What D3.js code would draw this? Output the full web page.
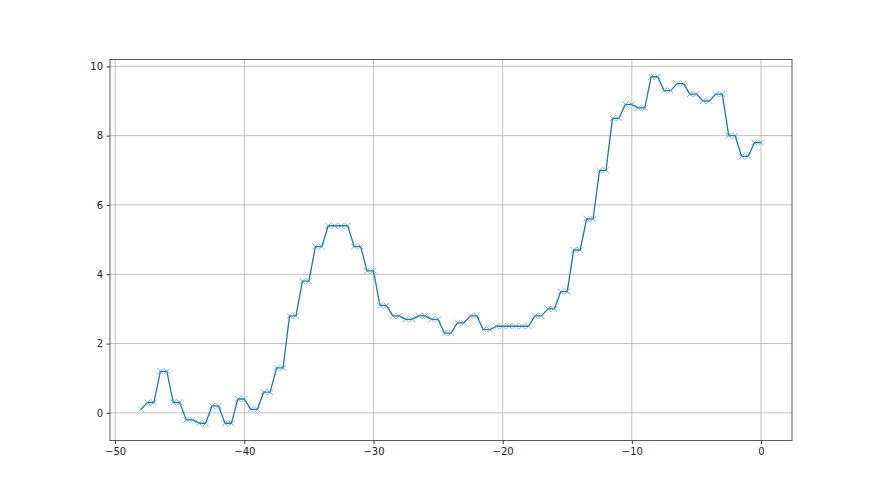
<!DOCTYPE html>
<html>
<head>
<meta charset="utf-8">
<script src="https://cdn.jsdelivr.net/npm/d3@7"></script>
<style>
  body { margin: 0; background: #fff; }
  svg text { font-family: "DejaVu Sans", sans-serif; font-size: 10px; fill: #000; }
</style>
</head>
<body>
<script>
const width = 880,
    height = 495;

// hours relative to now, each reading held for half an hour
const times = [-48,
  -47.5, -47, -46.5, -46, -45.5, -45, -44.5, -44, -43.5, -43, -42.5, -42,
  -41.5, -41, -40.5, -40, -39.5, -39, -38.5, -38, -37.5, -37, -36.5, -36,
  -35.5, -35, -34.5, -34, -33.5, -33, -32.5, -32, -31.5, -31, -30.5, -30,
  -29.5, -29, -28.5, -28, -27.5, -27, -26.5, -26, -25.5, -25, -24.5, -24,
  -23.5, -23, -22.5, -22, -21.5, -21, -20.5, -20, -19.5, -19, -18.5, -18,
  -17.5, -17, -16.5, -16, -15.5, -15, -14.5, -14, -13.5, -13, -12.5, -12,
  -11.5, -11, -10.5, -10, -9.5, -9, -8.5, -8, -7.5, -7, -6.5, -6,
  -5.5, -5, -4.5, -4, -3.5, -3, -2.5, -2, -1.5, -1, -0.5, 0];

const values = [0.1,
  0.3, 0.3, 1.2, 1.2, 0.3, 0.3, -0.2, -0.2, -0.3, -0.3, 0.2, 0.2,
  -0.3, -0.3, 0.4, 0.4, 0.1, 0.1, 0.6, 0.6, 1.3, 1.3, 2.8, 2.8,
  3.8, 3.8, 4.8, 4.8, 5.4, 5.4, 5.4, 5.4, 4.8, 4.8, 4.1, 4.1,
  3.1, 3.1, 2.8, 2.8, 2.7, 2.7, 2.8, 2.8, 2.7, 2.7, 2.3, 2.3,
  2.6, 2.6, 2.8, 2.8, 2.4, 2.4, 2.5, 2.5, 2.5, 2.5, 2.5, 2.5,
  2.8, 2.8, 3.0, 3.0, 3.5, 3.5, 4.7, 4.7, 5.6, 5.6, 7.0, 7.0,
  8.5, 8.5, 8.9, 8.9, 8.8, 8.8, 9.7, 9.7, 9.3, 9.3, 9.5, 9.5,
  9.2, 9.2, 9.0, 9.0, 9.2, 9.2, 8.0, 8.0, 7.4, 7.4, 7.8, 7.8];

const xTicks = [-50, -40, -30, -20, -10, 0],
    yTicks = [0, 2, 4, 6, 8, 10];

const margin = {left: 110, right: 88, top: 59.4, bottom: 54.4};
const color = "#1f77b4";

const svg = d3.select("body").append("svg")
    .attr("width", width)
    .attr("height", height);

// matplotlib style 5% padding around the data
const xMin = d3.min(times), xMax = d3.max(times),
    yMin = d3.min(values), yMax = d3.max(values);
const xPad = (xMax - xMin) * 0.05, yPad = (yMax - yMin) * 0.05;

const x = d3.scaleLinear()
    .domain([xMin - xPad, xMax + xPad])
    .range([margin.left, width - margin.right]);
const y = d3.scaleLinear()
    .domain([yMin - yPad, yMax + yPad])
    .range([height - margin.bottom, margin.top]);

const fmt = d => d < 0 ? "\u2212" + Math.abs(d) : "" + d;

// grid
svg.append("g").selectAll("line")
    .data(xTicks).enter().append("line")
    .attr("x1", d => x(d)).attr("x2", d => x(d))
    .attr("y1", y.range()[0]).attr("y2", y.range()[1])
    .style("stroke", "#b0b0b0").style("stroke-width", 0.8);
svg.append("g").selectAll("line")
    .data(yTicks).enter().append("line")
    .attr("y1", d => y(d)).attr("y2", d => y(d))
    .attr("x1", x.range()[0]).attr("x2", x.range()[1])
    .style("stroke", "#b0b0b0").style("stroke-width", 0.8);

// axes
const xAxis = svg.append("g")
    .attr("transform", "translate(0," + (height - margin.bottom) + ")")
    .call(d3.axisBottom(x).tickValues(xTicks).tickFormat(fmt).tickSizeOuter(0).tickSize(3.5).tickPadding(3.5));
const yAxis = svg.append("g")
    .attr("transform", "translate(" + margin.left + ",0)")
    .call(d3.axisLeft(y).tickValues(yTicks).tickFormat(fmt).tickSizeOuter(0).tickSize(3.5).tickPadding(3.5));
[xAxis, yAxis].forEach(a => {
  a.select(".domain").remove();
  a.selectAll("line").style("stroke", "#000").style("stroke-width", 0.8);
  a.selectAll("text").style("font-family", "DejaVu Sans").style("font-size", "10px").style("fill", "#222");
});

// frame
svg.append("rect")
    .attr("x", margin.left).attr("y", margin.top)
    .attr("width", width - margin.left - margin.right)
    .attr("height", height - margin.top - margin.bottom)
    .style("fill", "none").style("stroke", "#333").style("stroke-width", 0.8);

// line
const pts = times.map((t, i) => [t, values[i]]);
svg.append("path")
    .datum(pts)
    .attr("d", d3.line().x(d => x(d[0])).y(d => y(d[1])))
    .style("fill", "none").style("stroke", color).style("stroke-width", 1.3)
    .style("stroke-linejoin", "round");

// x markers
svg.append("g").selectAll("path")
    .data(pts).enter().append("path")
    .attr("transform", d => "translate(" + x(d[0]) + "," + y(d[1]) + ")")
    .attr("d", "M-3,-3L3,3M-3,3L3,-3")
    .style("stroke", "#4a94c8").style("stroke-width", 0.7)
    .style("fill", "none");
</script>
</body>
</html>
